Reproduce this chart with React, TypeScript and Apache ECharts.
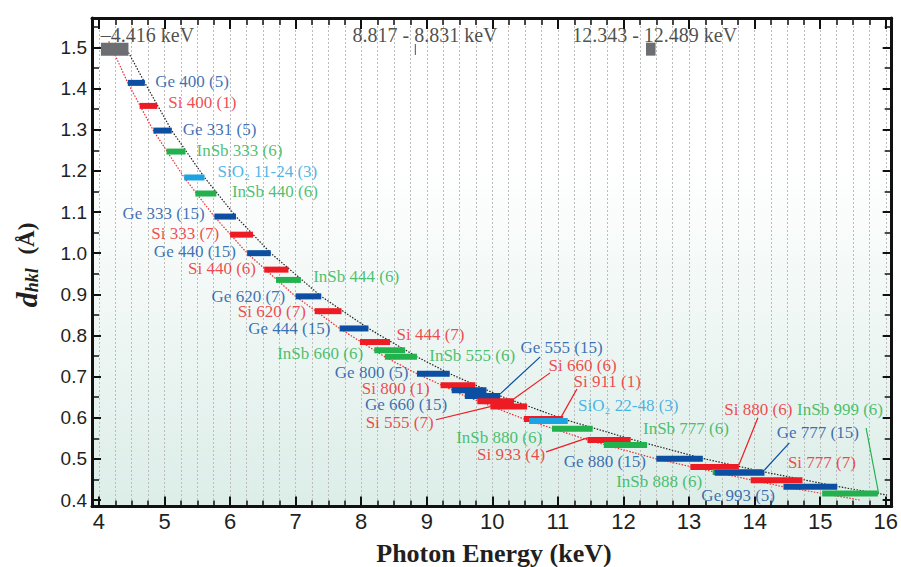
import React, { useEffect, useRef } from "react";
import * as echarts from "echarts";

// ---- axis extents (frame) ----
const X_MIN = 3.894;
const X_MAX = 16.09;
const Y_MIN = 0.3842;
const Y_MAX = 1.5717;

// ---- tick values ----
const xMajorTicks = [4, 5, 6, 7, 8, 9, 10, 11, 12, 13, 14, 15, 16];
const xMinorTicks: number[] = [];
for (let i = 0; i <= 48; i++) xMinorTicks.push(4 + i * 0.25);
const yMajorTicks = [0.4, 0.5, 0.6, 0.7, 0.8, 0.9, 1.0, 1.1, 1.2, 1.3, 1.4, 1.5];
const yMinorTicks: number[] = [];
for (let i = 0; i <= 23; i++) yMinorTicks.push(Math.round((0.4 + i * 0.05) * 1000) / 1000);

// ---- colours: Ge, Si, InSb, SiO2 ----
const palette = ["#0b4ea2", "#ed1c24", "#22b14c", "#1ca3e2"];
const edgeColor = "#6d6e71";

// ---- analyser reflections (bars) ----
const reflections = ["Ge 400", "Si 400", "Ge 331", "InSb 333", "SiO2 11-24", "InSb 440", "Ge 333", "Si 333", "Ge 440", "Si 440", "InSb 444", "Ge 620", "Si 620", "Ge 444", "Si 444", "InSb 660", "InSb 555", "Ge 800", "Si 800", "Ge 660", "Ge 555", "Si 660", "Si 555", "Si 911", "SiO2 22-48", "InSb 880", "Si 933", "InSb 777", "Ge 880", "Si 880", "InSb 888", "Ge 777", "Si 777", "Ge 993", "InSb 999"];
const barMaterial = [0, 1, 0, 2, 3, 2, 0, 1, 0, 1, 2, 0, 1, 0, 1, 2, 2, 0, 1, 0, 0, 1, 1, 1, 3, 2, 1, 2, 0, 1, 2, 0, 1, 0, 2];
const eLow = [4.44, 4.62, 4.83, 5.03, 5.30, 5.47, 5.76, 6.00, 6.26, 6.52, 6.70, 7.00, 7.29, 7.67, 7.98, 8.20, 8.36, 8.85, 9.21, 9.38, 9.58, 9.77, 9.97, 10.48, 10.56, 10.91, 11.45, 11.70, 12.50, 13.02, 13.36, 13.39, 13.94, 14.44, 15.03];
const eHigh = [4.70, 4.89, 5.11, 5.32, 5.61, 5.79, 6.09, 6.35, 6.62, 6.89, 7.08, 7.39, 7.70, 8.11, 8.44, 8.67, 8.85, 9.35, 9.74, 9.91, 10.12, 10.33, 10.53, 11.08, 11.15, 11.53, 12.11, 12.36, 13.21, 13.76, 14.12, 14.15, 14.73, 15.26, 15.88];
const dSpacing = [1.414, 1.358, 1.298, 1.247, 1.184, 1.145, 1.089, 1.045, 1.000, 0.960, 0.935, 0.895, 0.859, 0.817, 0.784, 0.764, 0.748, 0.707, 0.679, 0.667, 0.653, 0.640, 0.627, 0.597, 0.592, 0.573, 0.546, 0.534, 0.500, 0.480, 0.468, 0.466, 0.448, 0.432, 0.416];

// ---- absorption-edge markers at the top ----
const edgeLow = [4.03, 8.817, 12.343];
const edgeHigh = [4.45, 8.831, 12.489];
const edgeD = [1.496, 1.495, 1.496];
const edgeHeight = [13, 11, 13];
const edgeText = ["\u20134.416 keV", "8.817 - 8.831 keV", "12.343 - 12.489 keV"];
const edgeTextE = [4.02, 7.86, 11.21];
const edgeTextD = [1.530, 1.530, 1.530];

// ---- labels ----
const labelText = ["Ge 400 (5)", "Si 400 (1)", "Ge 331 (5)", "InSb 333 (6)", "SiO\u2082 11-24 (3)", "InSb 440 (6)", "Ge 333 (15)", "Si 333 (7)", "Ge 440 (15)", "Si 440 (6)", "InSb 444 (6)", "Ge 620 (7)", "Si 620 (7)", "Ge 444 (15)", "Si 444 (7)", "InSb 660 (6)", "InSb 555 (6)", "Ge 800 (5)", "Si 800 (1)", "Ge 660 (15)", "Si 555 (7)", "Ge 555 (15)", "Si 660 (6)", "Si 911 (1)", "SiO\u2082 22-48 (3)", "InSb 880 (6)", "Si 933 (4)", "Ge 880 (15)", "InSb 777 (6)", "InSb 888 (6)", "Ge 993 (5)", "Si 880 (6)", "InSb 999 (6)", "Ge 777 (15)", "Si 777 (7)"];
const labelMaterial = [0, 1, 0, 2, 3, 2, 0, 1, 0, 1, 2, 0, 1, 0, 1, 2, 2, 0, 1, 0, 1, 0, 1, 1, 3, 2, 1, 0, 2, 2, 0, 1, 2, 0, 1];
const labelE = [4.85, 5.05, 5.27, 5.48, 5.80, 6.02, 4.35, 4.79, 4.83, 5.35, 7.26, 5.71, 6.11, 6.27, 8.53, 6.71, 9.03, 7.59, 8.00, 8.05, 8.06, 10.42, 10.85, 11.23, 11.30, 9.44, 9.76, 11.08, 12.29, 11.88, 13.18, 13.53, 14.64, 14.33, 14.50];
const labelD = [1.417, 1.366, 1.300, 1.249, 1.198, 1.150, 1.096, 1.047, 1.004, 0.962, 0.943, 0.894, 0.858, 0.816, 0.802, 0.755, 0.751, 0.709, 0.670, 0.631, 0.588, 0.770, 0.726, 0.687, 0.629, 0.551, 0.510, 0.493, 0.575, 0.446, 0.412, 0.619, 0.619, 0.563, 0.490];

// ---- leader lines ----
const leaderFrom = [[10.73, 0.748], [10.88, 0.709], [11.29, 0.670], [9.14, 0.595], [10.82, 0.517], [14.05, 0.600], [14.53, 0.539], [15.70, 0.575]];
const leaderTo = [[10.12, 0.658], [10.33, 0.646], [11.05, 0.602], [9.97, 0.627], [11.45, 0.551], [13.76, 0.485], [14.15, 0.473], [15.89, 0.417]];
const leaderMaterial = [0, 1, 1, 1, 1, 1, 0, 2];

// ---- Bragg-angle limit curves ----
const upperCurve = [[4.45, 1.488], [4.70, 1.414], [5.11, 1.298], [5.61, 1.184], [6.09, 1.089], [6.62, 1.000], [7.39, 0.895], [8.11, 0.817], [8.85, 0.748], [9.35, 0.707], [10.12, 0.653], [11.08, 0.597], [12.11, 0.548], [13.21, 0.501], [14.15, 0.468], [15.26, 0.433], [16.02, 0.412]];
const lowerCurve = [[4.15, 1.515], [4.44, 1.414], [4.83, 1.298], [5.30, 1.184], [5.76, 1.089], [6.26, 1.000], [7.00, 0.895], [7.67, 0.817], [8.36, 0.748], [8.85, 0.707], [9.58, 0.653], [10.48, 0.597], [11.45, 0.546], [12.50, 0.500], [13.39, 0.468], [14.44, 0.432], [15.03, 0.416], [15.60, 0.400]];

const SERIF = "Liberation Serif";
const SANS = "Liberation Sans";

function buildOption(): any {
  const xBase = { type: "value", min: X_MIN, max: X_MAX, gridIndex: 0 };
  const yBase = { type: "value", min: Y_MIN, max: Y_MAX, gridIndex: 0 };
  const frameLine = { show: true, onZero: false, lineStyle: { color: "#111", width: 3 } };
  const noLine = { show: false, onZero: false };
  const majorTickStyle = { color: "#111", width: 2 };
  const minorTickStyle = { color: "#111", width: 1.5 };

  const xAxis = [
    {
      ...xBase, position: "bottom", axisLine: frameLine,
      axisTick: { show: true, inside: true, length: 10, customValues: xMajorTicks, lineStyle: majorTickStyle },
      axisLabel: { show: true, customValues: xMajorTicks, margin: 4, fontSize: 22, fontFamily: SANS, color: "#231f20", formatter: (v: number) => String(v) },
      splitLine: { show: false },
    },
    {
      ...xBase, position: "bottom", axisLine: noLine,
      axisTick: { show: true, inside: true, length: 6, customValues: xMinorTicks, lineStyle: minorTickStyle },
      axisLabel: { show: false },
      splitLine: { show: true, lineStyle: { color: "#bcbcbc", width: 1, type: [2, 2] } },
    },
    {
      ...xBase, position: "top", axisLine: frameLine,
      axisTick: { show: true, inside: true, length: 11, customValues: xMajorTicks, lineStyle: majorTickStyle },
      axisLabel: { show: false }, splitLine: { show: false },
    },
    {
      ...xBase, position: "top", axisLine: noLine,
      axisTick: { show: true, inside: true, length: 7, customValues: xMinorTicks, lineStyle: minorTickStyle },
      axisLabel: { show: false }, splitLine: { show: false },
    },
  ];
  const yAxis = [
    {
      ...yBase, position: "left", axisLine: frameLine,
      axisTick: { show: true, inside: true, length: 9, customValues: yMajorTicks, lineStyle: majorTickStyle },
      axisLabel: { show: true, customValues: yMajorTicks, margin: 5, fontSize: 19, fontFamily: SANS, color: "#231f20", formatter: (v: number) => v.toFixed(1) },
      splitLine: { show: false },
    },
    {
      ...yBase, position: "left", axisLine: noLine,
      axisTick: { show: true, inside: true, length: 7, customValues: yMinorTicks, lineStyle: minorTickStyle },
      axisLabel: { show: false }, splitLine: { show: false },
    },
    {
      ...yBase, position: "right", axisLine: frameLine,
      axisTick: { show: true, inside: true, length: 9, customValues: yMajorTicks, lineStyle: majorTickStyle },
      axisLabel: { show: false }, splitLine: { show: false },
    },
    {
      ...yBase, position: "right", axisLine: noLine,
      axisTick: { show: true, inside: true, length: 7, customValues: yMinorTicks, lineStyle: minorTickStyle },
      axisLabel: { show: false }, splitLine: { show: false },
    },
  ];

  const barData = reflections.map((name, i) => ({
    name,
    value: [eLow[i], eHigh[i], dSpacing[i], barMaterial[i], 6],
  }));
  const edgeData = edgeLow.map((lo, i) => ({
    name: edgeText[i],
    value: [lo, edgeHigh[i], edgeD[i], -1, edgeHeight[i]],
  }));

  const rectRender = (params: any, api: any) => {
    const p0 = api.coord([api.value(0), api.value(2)]);
    const p1 = api.coord([api.value(1), api.value(2)]);
    const h = api.value(4);
    const m = api.value(3);
    const w = Math.max(1.2, p1[0] - p0[0]);
    return {
      type: "rect",
      shape: { x: p0[0], y: p0[1] - h / 2, width: w, height: h },
      style: { fill: m < 0 ? edgeColor : palette[m] },
    };
  };

  const series: any[] = [
    {
      type: "line", name: "upper limit", data: upperCurve, showSymbol: false, symbol: "none",
      lineStyle: { color: "#222", width: 1.2, type: [1.5, 1.5] }, z: 2, silent: true,
    },
    {
      type: "line", name: "lower limit", data: lowerCurve, showSymbol: false, symbol: "none",
      lineStyle: { color: "#ee2a2a", width: 1.2, type: [1.5, 1.5] }, z: 2, silent: true,
    },
    {
      type: "custom", name: "edges", renderItem: rectRender, data: edgeData,
      encode: { x: [0, 1], y: 2 }, z: 3, silent: true,
    },
    {
      type: "custom", name: "reflections", renderItem: rectRender, data: barData,
      encode: { x: [0, 1], y: 2 }, z: 4, silent: true,
    },
    {
      type: "lines", name: "leaders", coordinateSystem: "cartesian2d", xAxisIndex: 0, yAxisIndex: 0,
      polyline: false, silent: true, z: 5,
      lineStyle: { width: 1.2, opacity: 1, curveness: 0 },
      data: leaderFrom.map((f, i) => ({
        coords: [f, leaderTo[i]],
        lineStyle: { color: palette[leaderMaterial[i]], width: 1.2, opacity: 1 },
      })),
    },
    {
      type: "scatter", name: "labels", symbolSize: 1, silent: true, z: 6,
      itemStyle: { color: "rgba(0,0,0,0)" },
      emphasis: { disabled: true },
      label: { show: true, position: "right", distance: 0, formatter: "{b}", fontFamily: SERIF, fontSize: 17, lineHeight: 14 },
      data: labelText.map((t, i) => ({
        name: t,
        value: [labelE[i], labelD[i]],
        label: { color: palette[labelMaterial[i]] },
      })),
    },
    {
      type: "scatter", name: "edge labels", symbolSize: 1, silent: true, z: 6,
      itemStyle: { color: "rgba(0,0,0,0)" },
      emphasis: { disabled: true },
      label: { show: true, position: "right", distance: 0, formatter: "{b}", fontFamily: SERIF, fontSize: 20, lineHeight: 18, color: "#231f20" },
      data: edgeText.map((t, i) => ({ name: t, value: [edgeTextE[i], edgeTextD[i]] })),
    },
  ];

  return {
    animation: false,
    backgroundColor: "#ffffff",
    grid: {
      left: 92, top: 18, width: 805, height: 488.5, containLabel: false, show: true, borderWidth: 0,
      backgroundColor: new echarts.graphic.LinearGradient(0, 0, 0, 1, [
        { offset: 0, color: "#ffffff" },
        { offset: 0.3, color: "#ffffff" },
        { offset: 1, color: "#dcede8" },
      ]),
    },
    xAxis,
    yAxis,
    series,
    graphic: [
      {
        type: "text", x: 494, y: 553, silent: true,
        style: {
          text: "Photon Energy (keV)", fontFamily: SERIF, fontSize: 26, fontWeight: "bold",
          fill: "#231f20", align: "center", verticalAlign: "middle",
        },
      },
      {
        type: "text", x: 26, y: 265, rotation: Math.PI / 2, silent: true,
        style: {
          text: "{d|d}{s|hkl}{p| (Å)}", align: "center", verticalAlign: "middle", fill: "#231f20",
          rich: {
            d: { fontFamily: SERIF, fontSize: 30, fontWeight: "bold", fontStyle: "italic", fill: "#231f20" },
            s: { fontFamily: SERIF, fontSize: 18, fontWeight: "bold", fontStyle: "italic", fill: "#231f20", verticalAlign: "bottom" },
            p: { fontFamily: SERIF, fontSize: 23, fontWeight: "bold", fill: "#231f20", padding: [0, 0, 0, 8] },
          },
        },
      },
    ],
  };
}

export default function App() {
  const ref = useRef<HTMLDivElement>(null);
  useEffect(() => {
    if (!ref.current) return;
    const chart = echarts.init(ref.current, undefined, { renderer: "svg" });
    chart.setOption(buildOption());
    return () => chart.dispose();
  }, []);
  return (
    <div
      ref={ref}
      style={{ position: "fixed", left: 0, top: 0, width: 901, height: 567, background: "#fff" }}
    />
  );
}
